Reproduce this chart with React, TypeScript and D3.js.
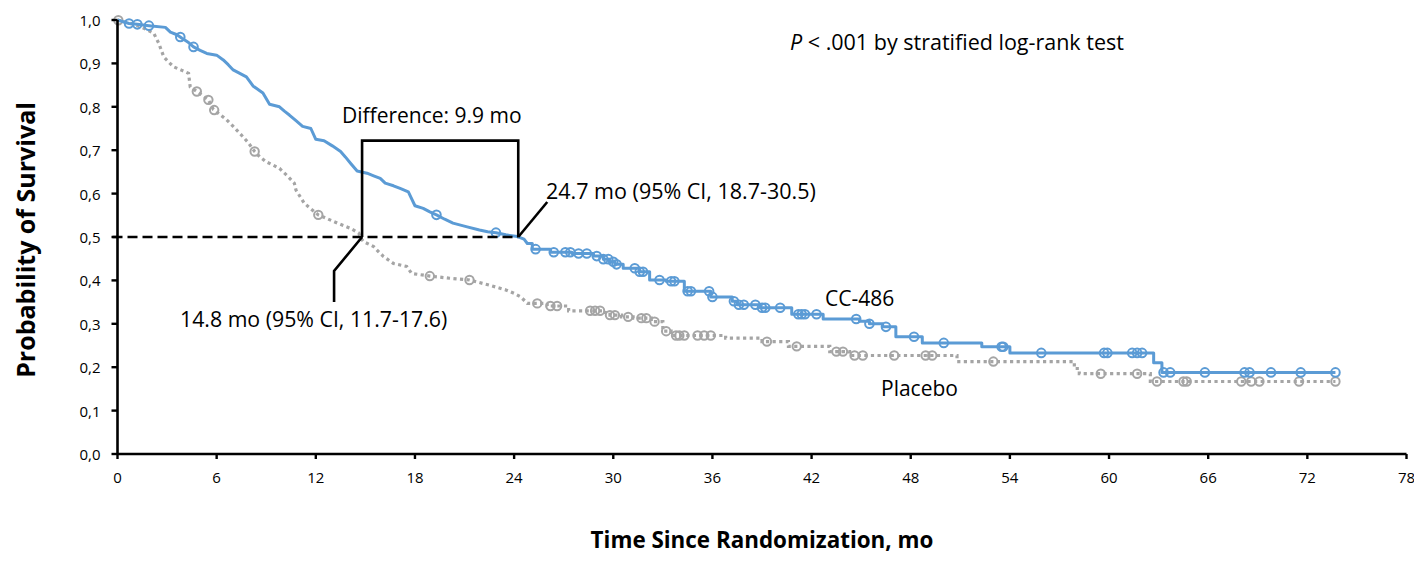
import React from "react";
import * as d3 from "d3";

// Kaplan-Meier curve points [months, survival probability]
const ccTimes = [0, 0.7, 1.2, 1.9, 2.9, 3.2, 3.6, 3.9, 4.3, 4.6, 5.0, 5.4, 6.0, 6.4, 6.7, 7.0, 7.4, 7.8, 8.2, 8.8, 9.2, 9.8, 10.1, 10.4, 10.8, 11.2, 11.7, 12.0, 12.5, 13.0, 13.5, 13.8, 14.1, 14.5, 15.1, 15.5, 15.9, 16.2, 16.7, 17.1, 17.6, 18.0, 18.5, 18.9, 19.3, 19.8, 20.3, 21.1, 21.9, 22.4, 22.9, 23.5, 24.2, 24.6, 24.8, 25.1, 26.2, 27.5, 28.8, 29.4, 29.8, 30.1, 30.6, 31.6, 32.2, 33.2, 34.3, 35.9, 37.2, 37.5, 38.9, 40.8, 42.7, 44.9, 45.5, 46.3, 47.1, 48.7, 52.3, 54.0, 62.7, 63.2, 73.7];
const ccSurv = [1.0, 0.992, 0.99, 0.987, 0.983, 0.972, 0.966, 0.958, 0.948, 0.938, 0.93, 0.923, 0.919, 0.908, 0.897, 0.885, 0.877, 0.869, 0.848, 0.832, 0.806, 0.8, 0.79, 0.781, 0.768, 0.755, 0.75, 0.725, 0.722, 0.71, 0.697, 0.684, 0.67, 0.652, 0.647, 0.641, 0.635, 0.624, 0.618, 0.612, 0.604, 0.572, 0.566, 0.558, 0.551, 0.541, 0.532, 0.524, 0.516, 0.512, 0.51, 0.505, 0.501, 0.495, 0.485, 0.472, 0.465, 0.462, 0.456, 0.449, 0.443, 0.437, 0.428, 0.42, 0.401, 0.398, 0.375, 0.362, 0.352, 0.344, 0.337, 0.322, 0.311, 0.306, 0.3, 0.293, 0.27, 0.256, 0.247, 0.233, 0.21, 0.188, 0.188];
const ccCensored = [0.7, 1.2, 1.9, 3.8, 4.6, 19.3, 22.9, 25.3, 26.4, 27.1, 27.4, 27.9, 28.4, 29.0, 29.4, 29.7, 30.0, 30.2, 31.3, 31.6, 31.8, 32.8, 33.5, 33.7, 34.5, 34.7, 35.8, 36.0, 37.3, 37.6, 37.9, 38.6, 39.0, 39.2, 40.1, 41.2, 41.4, 41.6, 42.3, 44.7, 45.5, 46.5, 48.2, 50.0, 53.5, 53.6, 55.9, 59.7, 59.9, 61.4, 61.7, 62.0, 63.3, 63.7, 65.8, 68.2, 68.5, 69.8, 71.6, 73.7];

const pbTimes = [0, 1.0, 1.6, 2.2, 2.5, 2.8, 3.1, 3.4, 3.9, 4.3, 4.4, 5.0, 5.5, 5.8, 6.2, 6.6, 7.0, 7.4, 7.9, 8.3, 8.6, 9.0, 9.4, 9.8, 10.3, 10.7, 10.8, 11.1, 11.3, 11.7, 12.15, 12.7, 13.3, 14.1, 14.6, 14.7, 14.9, 15.5, 15.8, 16.1, 16.7, 17.5, 17.8, 18.9, 20.1, 21.3, 22.5, 23.5, 24.0, 24.4, 24.8, 26.0, 27.3, 29.5, 29.8, 30.5, 31.2, 32.3, 33.0, 33.5, 36.8, 39.0, 40.6, 43.1, 44.3, 50.8, 57.9, 58.2, 62.5, 73.7];
const pbSurv = [1.0, 0.99, 0.981, 0.969, 0.946, 0.915, 0.903, 0.892, 0.884, 0.877, 0.846, 0.83, 0.816, 0.794, 0.782, 0.77, 0.755, 0.739, 0.718, 0.697, 0.685, 0.673, 0.666, 0.658, 0.64, 0.624, 0.608, 0.59, 0.578, 0.565, 0.551, 0.542, 0.532, 0.52, 0.509, 0.498, 0.489, 0.478, 0.466, 0.455, 0.439, 0.432, 0.416, 0.41, 0.405, 0.401, 0.389, 0.378, 0.37, 0.362, 0.347, 0.341, 0.33, 0.326, 0.32, 0.316, 0.313, 0.305, 0.283, 0.273, 0.267, 0.259, 0.248, 0.236, 0.227, 0.213, 0.197, 0.185, 0.167, 0.167];
const pbCensored = [0.05, 4.8, 5.5, 5.85, 8.3, 12.15, 18.9, 21.3, 25.4, 26.2, 26.6, 28.6, 28.9, 29.2, 29.8, 30.1, 30.9, 31.7, 32.0, 32.5, 33.2, 33.8, 34.0, 34.3, 35.1, 35.5, 35.9, 39.3, 41.1, 43.5, 43.9, 44.6, 45.1, 47.0, 48.9, 49.3, 53.0, 59.5, 61.7, 62.9, 64.5, 64.7, 68.0, 68.6, 69.1, 71.5, 73.7];

// from this month on, the curves are drawn as clear steps
const stepFrom = 25;

const xTicks = [0, 6, 12, 18, 24, 30, 36, 42, 48, 54, 60, 66, 72, 78];
const yTicks = [0, 0.1, 0.2, 0.3, 0.4, 0.5, 0.6, 0.7, 0.8, 0.9, 1.0];
const yTickLabels = ["0,0", "0,1", "0,2", "0,3", "0,4", "0,5", "0,6", "0,7", "0,8", "0,9", "1,0"];

const medianSurvival = 0.5;
const placeboMedianMark = 14.8;
const ccMedianMark = 24.25;
const boxTop = 0.722;

const W = 1414;
const H = 562;
const FONT = "'Open Sans', 'Noto Sans', sans-serif";
const BLUE = "#5B9BD5";
const GRAY = "#A5A5A5";

type Pt = [number, number];

function vertices(times: number[], surv: number[]): Pt[] {
  const out: Pt[] = [];
  times.forEach((t, i) => {
    if (i > 0 && t >= stepFrom) out.push([t, surv[i - 1]]);
    out.push([t, surv[i]]);
  });
  return out;
}

function valueAt(pts: Pt[], t: number): number {
  let j = pts.findIndex((p) => p[0] > t);
  if (j <= 0) return pts[pts.length - 1][1];
  const a = pts[j - 1];
  const b = pts[j];
  if (b[0] === a[0]) return b[1];
  if (t >= stepFrom) return a[1];
  return a[1] + ((b[1] - a[1]) * (t - a[0])) / (b[0] - a[0]);
}

export default function App() {
  const x = d3.scaleLinear().domain([0, 78]).range([117.5, 1406.5]);
  const y = d3.scaleLinear().domain([0, 1]).range([454, 20]);

  const ccPts = vertices(ccTimes, ccSurv);
  const pbPts = vertices(pbTimes, pbSurv);

  const line = d3
    .line<Pt>()
    .x((d) => x(d[0]))
    .y((d) => y(d[1]))
    .curve(d3.curveLinear);

  const y50 = y(medianSurvival);
  const xPb = x(placeboMedianMark);
  const xCc = x(ccMedianMark);
  const yTop = y(boxTop);

  return (
    <svg
      width={W}
      height={H}
      style={{ position: "absolute", left: 0, top: 0, background: "#fff" }}
      fontFamily={FONT}
    >
      <rect width={W} height={H} fill="#fff" />
      {/* curves */}
      <path d={line(pbPts) || ""} fill="none" stroke={GRAY} strokeWidth={3.2} strokeDasharray="3.2 3.4" />
      {pbCensored.map((t, i) => (
        <circle key={"p" + i} cx={x(t)} cy={y(valueAt(pbPts, t))} r={4.2} fill="none" stroke={GRAY} strokeWidth={2} />
      ))}
      <path d={line(ccPts) || ""} fill="none" stroke={BLUE} strokeWidth={3} strokeLinejoin="round" />
      {ccCensored.map((t, i) => (
        <circle key={"c" + i} cx={x(t)} cy={y(valueAt(ccPts, t))} r={4.3} fill="none" stroke={BLUE} strokeWidth={2} />
      ))}

      {/* annotation lines */}
      <line x1={x(0) - 5} x2={xCc} y1={y50} y2={y50} stroke="#000" strokeWidth={2.6} strokeDasharray="10 5" />
      <path
        d={`M${xPb},${y50} V${yTop} H${xCc} V${y50}`}
        fill="none"
        stroke="#000"
        strokeWidth={2.6}
      />
      <path d={`M${xPb},${y50} L${xPb - 28},${y50 + 34} V${y50 + 65}`} fill="none" stroke="#000" strokeWidth={2.6} />
      <path d={`M${xCc},${y50} L${xCc + 29},${y50 - 35}`} fill="none" stroke="#000" strokeWidth={2.6} />

      {/* axes */}
      <line x1={x(0)} x2={x(78)} y1={y(0)} y2={y(0)} stroke="#000" strokeWidth={2.6} />
      <line x1={x(0)} x2={x(0)} y1={y(0)} y2={y(1)} stroke="#000" strokeWidth={2.6} />
      {xTicks.map((t) => (
        <g key={"xt" + t}>
          <line x1={x(t)} x2={x(t)} y1={y(0)} y2={y(0) + 5} stroke="#000" strokeWidth={2.4} />
          <text x={x(t)} y={y(0) + 29} textAnchor="middle" fontSize={15} fill="#000">
            {t}
          </text>
        </g>
      ))}
      {yTicks.map((v, i) => (
        <g key={"yt" + i}>
          <line x1={x(0) - 6} x2={x(0)} y1={y(v)} y2={y(v)} stroke="#000" strokeWidth={2.4} />
          <text x={x(0) - 17} y={y(v) + 6} textAnchor="end" fontSize={15} fill="#000">
            {yTickLabels[i]}
          </text>
        </g>
      ))}

      {/* texts */}
      <text x={342} y={122.5} fontSize={21} fill="#000">Difference: 9.9 mo</text>
      <text x={546} y={199} fontSize={21.5} fill="#000">24.7 mo (95% CI, 18.7-30.5)</text>
      <text x={180} y={327} fontSize={21.3} fill="#000">14.8 mo (95% CI, 11.7-17.6)</text>
      <text x={790} y={50} fontSize={21.5} fill="#000">
        <tspan fontStyle="italic">P</tspan> &lt; .001 by stratified log-rank test
      </text>
      <text x={825} y={306} fontSize={21} fill="#000">CC-486</text>
      <text x={881} y={396} fontSize={21} fill="#000">Placebo</text>

      <text
        transform={`translate(35,240) rotate(-90)`}
        textAnchor="middle"
        fontSize={25}
        fontWeight="bold"
        fill="#000"
      >
        Probability of Survival
      </text>
      <text x={762} y={548} textAnchor="middle" fontSize={22.4} fontWeight="bold" fill="#000">
        Time Since Randomization, mo
      </text>
    </svg>
  );
}
